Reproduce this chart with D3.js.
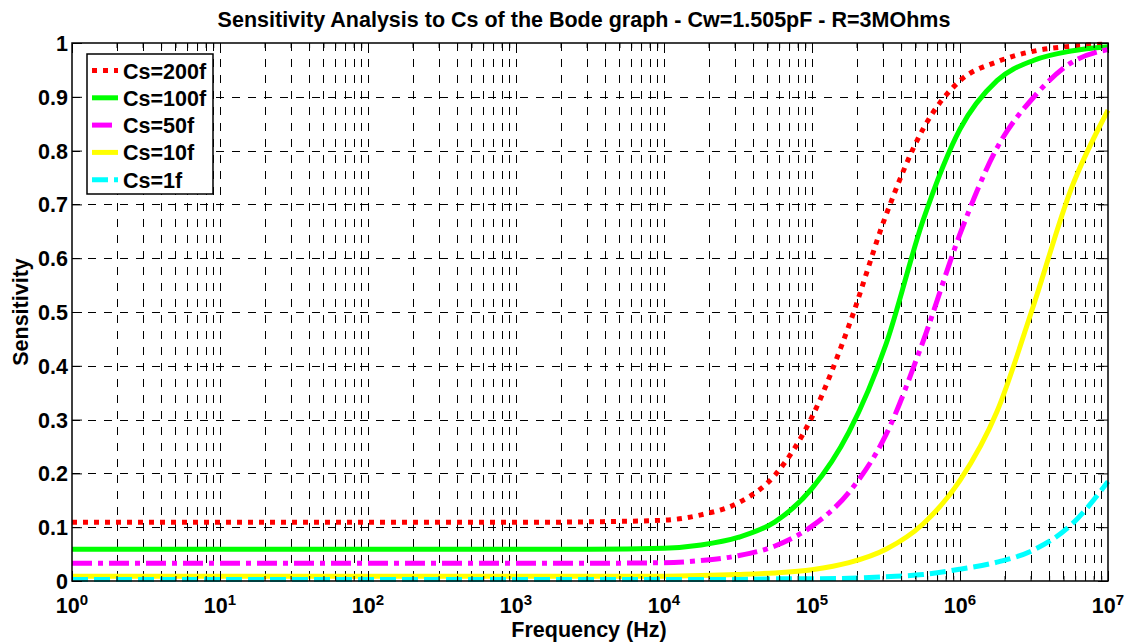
<!DOCTYPE html>
<html>
<head>
<meta charset="utf-8">
<script src="https://cdn.jsdelivr.net/npm/d3@7"></script>
<style>
body { margin: 0; background: #fff; }
text { font-family: "Liberation Sans", Arial, sans-serif; font-weight: bold; fill: #000; }
</style>
</head>
<body>
<svg id="chart" width="1130" height="642"></svg>
<script>
let freqs = [1, 10, 100, 1000, 3162, 10000, 17783, 31623, 56234, 100000, 177828, 316228, 562341, 1000000, 1778279, 3162278, 5623413, 10000000]

let cs200 = [0.109, 0.109, 0.109, 0.109, 0.110, 0.113, 0.123, 0.145, 0.197, 0.305, 0.475, 0.680, 0.840, 0.930, 0.965, 0.985, 0.994, 0.998]
let cs100 = [0.059, 0.059, 0.059, 0.059, 0.059, 0.061, 0.067, 0.081, 0.110, 0.172, 0.277, 0.440, 0.670, 0.840, 0.930, 0.968, 0.985, 0.993]
let cs50 = [0.033, 0.033, 0.033, 0.033, 0.033, 0.034, 0.038, 0.047, 0.065, 0.102, 0.165, 0.272, 0.445, 0.645, 0.805, 0.900, 0.963, 0.988]
let cs10 = [0.009, 0.009, 0.009, 0.009, 0.009, 0.009, 0.010, 0.012, 0.015, 0.021, 0.034, 0.059, 0.106, 0.187, 0.315, 0.515, 0.728, 0.875]
let cs1 = [0.003, 0.003, 0.003, 0.003, 0.003, 0.003, 0.003, 0.003, 0.004, 0.004, 0.005, 0.008, 0.012, 0.022, 0.035, 0.058, 0.104, 0.185]

let seriesNames = ["Cs=200f", "Cs=100f", "Cs=50f", "Cs=10f", "Cs=1f"]
let seriesValues = [cs200, cs100, cs50, cs10, cs1]
let seriesColors = ["#ff0000", "#00ff00", "#ff00ff", "#ffff00", "#00ffff"]
let seriesDashes = ["5,6", null, "20,6,5,6", null, "16,6"]

let xMajor = [1, 10, 100, 1000, 10000, 100000, 1000000, 10000000]
let yTicks = [0, 0.1, 0.2, 0.3, 0.4, 0.5, 0.6, 0.7, 0.8, 0.9, 1]

let titleText = "Sensitivity Analysis to Cs of the Bode graph - Cw=1.505pF - R=3MOhms"
let xLabel = "Frequency (Hz)"
let yLabel = "Sensitivity"

let plotLeft = 72, plotRight = 1108, plotTop = 43, plotBottom = 581

let x = d3.scaleLog().domain([1, 1e7]).range([plotLeft, plotRight])
let y = d3.scaleLinear().domain([0, 1]).range([plotBottom, plotTop])

let xMinor = []
for (let i = 0; i < xMajor.length - 1; i++) {
  for (let k = 2; k <= 9; k++) xMinor.push(xMajor[i] * k)
}

let svg = d3.select("#chart")

let grid = svg.append("g")
  .attr("stroke", "#000")
  .attr("stroke-width", 1)
  .attr("stroke-dasharray", "8,8")

grid.selectAll(".vgrid")
  .data(xMinor.concat(xMajor.slice(1, -1)))
  .enter()
  .append("line")
  .attr("x1", d => Math.round(x(d)) + 0.5)
  .attr("x2", d => Math.round(x(d)) + 0.5)
  .attr("y1", plotTop)
  .attr("y2", plotBottom)

grid.selectAll(".hgrid")
  .data(yTicks.slice(1, -1))
  .enter()
  .append("line")
  .attr("x1", plotLeft)
  .attr("x2", plotRight)
  .attr("y1", d => Math.round(y(d)) + 0.5)
  .attr("y2", d => Math.round(y(d)) + 0.5)

let line = d3.line()
  .x((d, i) => x(freqs[i]))
  .y(d => y(d))
  .curve(d3.curveMonotoneX)

seriesValues.forEach(function(values, s) {
  svg.append("path")
    .datum(values)
    .attr("d", line)
    .attr("fill", "none")
    .attr("stroke", seriesColors[s])
    .attr("stroke-width", 5)
    .attr("stroke-dasharray", seriesDashes[s])
})

svg.append("g")
  .attr("transform", "translate(0," + plotBottom + ")")
  .call(d3.axisBottom(x).tickValues(xMajor).tickSize(-10).tickFormat(""))
svg.append("g")
  .attr("transform", "translate(0," + plotBottom + ")")
  .call(d3.axisBottom(x).tickValues(xMinor).tickSize(-5).tickFormat(""))
svg.append("g")
  .attr("transform", "translate(0," + plotTop + ")")
  .call(d3.axisTop(x).tickValues(xMajor).tickSize(-10).tickFormat(""))
svg.append("g")
  .attr("transform", "translate(0," + plotTop + ")")
  .call(d3.axisTop(x).tickValues(xMinor).tickSize(-5).tickFormat(""))
svg.append("g")
  .attr("transform", "translate(" + plotLeft + ",0)")
  .call(d3.axisLeft(y).tickValues(yTicks).tickSize(-10).tickFormat(""))
svg.append("g")
  .attr("transform", "translate(" + plotRight + ",0)")
  .call(d3.axisRight(y).tickValues(yTicks).tickSize(-10).tickFormat(""))

svg.selectAll(".domain").remove()
svg.selectAll(".tick line").attr("stroke", "#000").attr("stroke-width", 1)

svg.append("rect")
  .attr("x", plotLeft)
  .attr("y", plotTop)
  .attr("width", plotRight - plotLeft)
  .attr("height", plotBottom - plotTop)
  .attr("fill", "none")
  .attr("stroke", "#000")
  .attr("stroke-width", 1.5)

svg.selectAll(".ylab")
  .data(yTicks)
  .enter()
  .append("text")
  .attr("x", 68)
  .attr("y", d => y(d) + 8)
  .attr("text-anchor", "end")
  .attr("font-size", "21.5px")
  .text(d => d3.format("")(d))

let xl = svg.selectAll(".xlab")
  .data(xMajor)
  .enter()
  .append("text")
  .attr("x", d => x(d))
  .attr("y", 613)
  .attr("text-anchor", "middle")
  .attr("font-size", "21.5px")

xl.append("tspan").text("10")
xl.append("tspan")
  .attr("dy", -8)
  .attr("font-size", "15px")
  .text(d => Math.round(Math.log10(d)))

svg.append("text")
  .attr("x", 584)
  .attr("y", 27)
  .attr("text-anchor", "middle")
  .attr("font-size", "21.5px")
  .text(titleText)

svg.append("text")
  .attr("x", 589)
  .attr("y", 637)
  .attr("text-anchor", "middle")
  .attr("font-size", "21.5px")
  .text(xLabel)

svg.append("text")
  .attr("transform", "translate(28,312) rotate(-90)")
  .attr("text-anchor", "middle")
  .attr("font-size", "21.5px")
  .text(yLabel)

let legend = svg.append("g")

legend.append("rect")
  .attr("x", 87)
  .attr("y", 54)
  .attr("width", 126)
  .attr("height", 140)
  .attr("fill", "#fff")
  .attr("stroke", "#000")
  .attr("stroke-width", 1.5)

seriesNames.forEach(function(name, s) {
  let ly = 70.5 + s * 27.3
  legend.append("line")
    .attr("x1", 92)
    .attr("x2", 118)
    .attr("y1", ly)
    .attr("y2", ly)
    .attr("stroke", seriesColors[s])
    .attr("stroke-width", 5)
    .attr("stroke-dasharray", seriesDashes[s])
  legend.append("text")
    .attr("x", 123)
    .attr("y", ly + 8)
    .attr("font-size", "21.5px")
    .text(name)
})
</script>
</body>
</html>
